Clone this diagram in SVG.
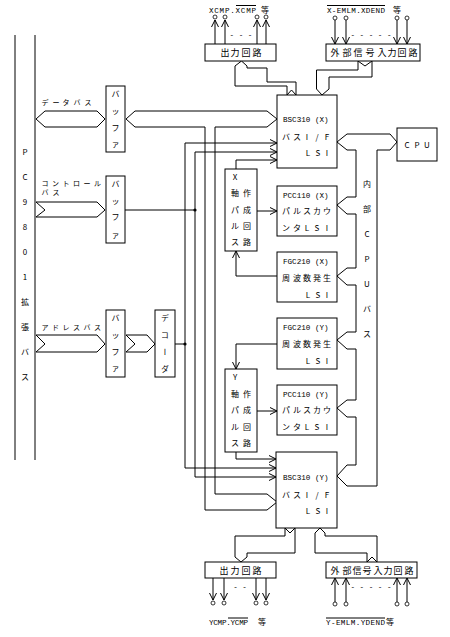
<svg xmlns="http://www.w3.org/2000/svg" width="450" height="637" viewBox="0 0 450 637">
<defs>
<style>
.ln{fill:none;stroke:#000;stroke-width:1}
.bx{fill:#fff;stroke:#000;stroke-width:1}
.m{font-family:"Liberation Mono","DejaVu Sans Mono",monospace;font-size:7.6px;fill:#000}
.j{font-family:"Noto Sans CJK JP","Noto Sans",sans-serif;font-size:8px;fill:#000;text-anchor:middle}
.js{font-family:"Noto Sans CJK JP","Noto Sans",sans-serif;font-size:7px;fill:#000;text-anchor:middle}
.jb{font-family:"Noto Sans CJK JP","Noto Sans",sans-serif;font-size:9px;fill:#000;text-anchor:middle}
.dot{fill:#000}
.term{fill:#fff;stroke:#000;stroke-width:0.8}
</style>
<marker id="ah" viewBox="0 0 7 8" refX="7" refY="4" markerWidth="7" markerHeight="8" markerUnits="userSpaceOnUse" orient="auto"><path d="M0,0.5 L7,4 L0,7.5" fill="none" stroke="#000" stroke-width="1"/></marker>
</defs>
<rect width="450" height="637" fill="#fff"/>

<g id="pc9801-bus">
<line class="ln" x1="15" y1="35" x2="15" y2="460"/>
<line class="ln" x1="35" y1="35" x2="35" y2="460"/>
<text class="j" x="25 25 25 25 25 25 25 25 25 25" y="155 180 205 230 255 280 305 330 355 380">PC9801拡張バス</text>
</g>

<g id="connectors">
<polygon class="ln" points="36,119 45,111 97,111 105,119 97,127 45,127"/>
<polygon class="ln" points="36,202 97,202 105,210 97,217 36,217 45,210"/>
<polygon class="ln" points="36,335 97,335 105,344 97,352 36,352 45,344"/>
<polygon class="ln" points="126,335 147,335 155,344 147,352 126,352 135,344"/>
<path class="ln" d="M126,119 L135,111 L267,111 L277,119 L267,127 L215,127 L215,494 L267,494 L277,502 L267,510 L205,510 L205,127 L135,127 Z"/>
<line class="ln" x1="125" y1="210" x2="195" y2="210"/>
<circle class="dot" cx="195" cy="210" r="1.6"/>
<line class="ln" x1="175" y1="344" x2="185" y2="344"/>
<circle class="dot" cx="185" cy="344" r="1.6"/>
<line class="ln" x1="185" y1="143" x2="185" y2="468"/>
<path class="ln" d="M185,143 L277,143" marker-end="url(#ah)"/>
<path class="ln" d="M185,468 L276,468" marker-end="url(#ah)"/>
<line class="ln" x1="195" y1="152" x2="195" y2="477"/>
<path class="ln" d="M195,152 L277,152" marker-end="url(#ah)"/>
<path class="ln" d="M195,477 L276,477" marker-end="url(#ah)"/>
<path class="ln" d="M236,169 L236,160 L277,160" marker-end="url(#ah)"/>
<path class="ln" d="M236,452 L236,459 L276,459" marker-end="url(#ah)"/>
<path class="ln" d="M257,211 L277,211" marker-end="url(#ah)"/>
<path class="ln" d="M277,276 L236,276 L236,251" marker-end="url(#ah)"/>
<path class="ln" d="M277,344 L236,344 L236,369" marker-end="url(#ah)"/>
<path class="ln" d="M257,411 L277,411" marker-end="url(#ah)"/>
<path class="ln" d="M397,142 L390,134 L347,134 L337,142 L347,150 L356,150 L356,197 L347,197 L337,205 L347,214 L356,214 L356,268 L347,268 L337,276 L347,285 L356,285 L356,332 L347,332 L337,340 L347,349 L356,349 L356,400 L347,400 L337,408 L347,417 L356,417 L356,465 L347,465 L337,476 L347,486 L377,486 L377,150 L390,150 Z"/>
<text class="j" x="367 367 367 367 367 367 367" y="187 212 237 262 287 312 337">内部CPUバス</text>
<path class="ln" d="M241.5,61 L247,66 L247,68 L267,68 L267,82 L296,82 L296,95 L291.5,90 L287,95 L287,86 L235,86 L235,66 Z"/>
<path class="ln" d="M322,95 L316.5,89 L316.5,70 L358,70 L358,61 L365,66 L372,61 L372,77 L329,77 L329,89 Z"/>
<path class="ln" d="M241,562 L235,557 L235,536 L285,536 L285,528 L290,533 L295,528 L295,553 L247,553 L247,557 Z"/>
<path class="ln" d="M320,528 L325,533 L325,536 L377,536 L377,562 L372,557 L367,562 L367,553 L315,553 L315,533 Z"/>
<path class="ln" d="M215,44 L215,20" marker-end="url(#ah)"/>
<path class="ln" d="M225,44 L225,20" marker-end="url(#ah)"/>
<path class="ln" d="M257,44 L257,20" marker-end="url(#ah)"/>
<path class="ln" d="M266,44 L266,20" marker-end="url(#ah)"/>
<circle class="term" cx="215" cy="17" r="2"/>
<circle class="term" cx="225" cy="17" r="2"/>
<circle class="term" cx="257" cy="17" r="2"/>
<circle class="term" cx="266" cy="17" r="2"/>
<path class="ln" d="M335,20 L335,44" marker-end="url(#ah)"/>
<path class="ln" d="M346,20 L346,44" marker-end="url(#ah)"/>
<path class="ln" d="M397,20 L397,44" marker-end="url(#ah)"/>
<path class="ln" d="M407,20 L407,44" marker-end="url(#ah)"/>
<circle class="term" cx="335" cy="18" r="2"/>
<circle class="term" cx="346" cy="18" r="2"/>
<circle class="term" cx="397" cy="18" r="2"/>
<circle class="term" cx="407" cy="18" r="2"/>
<path class="ln" d="M213,578 L213,600" marker-end="url(#ah)"/>
<path class="ln" d="M224,578 L224,600" marker-end="url(#ah)"/>
<path class="ln" d="M256,578 L256,600" marker-end="url(#ah)"/>
<path class="ln" d="M266,578 L266,600" marker-end="url(#ah)"/>
<circle class="term" cx="213" cy="603" r="2"/>
<circle class="term" cx="224" cy="603" r="2"/>
<circle class="term" cx="256" cy="603" r="2"/>
<circle class="term" cx="266" cy="603" r="2"/>
<path class="ln" d="M335,602 L335,578" marker-end="url(#ah)"/>
<path class="ln" d="M346,602 L346,578" marker-end="url(#ah)"/>
<path class="ln" d="M397,602 L397,578" marker-end="url(#ah)"/>
<path class="ln" d="M407,602 L407,578" marker-end="url(#ah)"/>
<circle class="term" cx="335" cy="604" r="2"/>
<circle class="term" cx="346" cy="604" r="2"/>
<circle class="term" cx="397" cy="604" r="2"/>
<circle class="term" cx="407" cy="604" r="2"/>
<text class="m" x="241" y="37" text-anchor="middle" font-size="6">- - -</text>
<text class="m" x="371" y="37" text-anchor="middle" font-size="6">- - - - -</text>
<text class="m" x="240" y="589" text-anchor="middle" font-size="6">- -</text>
<text class="m" x="371" y="589" text-anchor="middle" font-size="6">- - - - -</text>
</g>

<g id="labels">
<text class="js" x="45 56 66 77 88" y="104.5">データバス</text>
<text class="js" x="45 55.5 66 76.5 87 97.5" y="186">コントロール</text>
<text class="js" x="45 56" y="195">バス</text>
<text class="js" x="45 55.5 66 76.5 87 97.5" y="329.5">アドレスバス</text>
<text class="m" x="209" y="13" textLength="47" lengthAdjust="spacing">XCMP.XCMP</text>
<text class="j" x="265" y="13">等</text>
<line class="ln" x1="236" y1="5.5" x2="256" y2="5.5"/>
<text class="m" x="327" y="13" textLength="58" lengthAdjust="spacing">X-EMLM.XDEND</text>
<text class="j" x="397" y="13">等</text>
<line class="ln" x1="327" y1="5.5" x2="385" y2="5.5"/>
<text class="m" x="209" y="625" textLength="39" lengthAdjust="spacing">YCMP.YCMP</text>
<text class="j" x="262" y="625">等</text>
<line class="ln" x1="228" y1="618" x2="248" y2="618"/>
<text class="m" x="326" y="625" textLength="59" lengthAdjust="spacing">Y-EMLM.YDEND</text>
<text class="j" x="390" y="625">等</text>
<line class="ln" x1="326" y1="618" x2="385" y2="618"/>
</g>

<g id="buffer-data">
<rect class="bx" x="106" y="86" width="19" height="66"/>
<text class="j" x="115.5 115.5 115.5 115.5" y="97 114 131 147">バッファ</text>
</g>
<g id="buffer-control">
<rect class="bx" x="106" y="176" width="19" height="67"/>
<text class="j" x="115.5 115.5 115.5 115.5" y="187 204 220 238">バッファ</text>
</g>
<g id="buffer-address">
<rect class="bx" x="106" y="310" width="19" height="67"/>
<text class="j" x="115.5 115.5 115.5 115.5" y="321 338 355 371">バッファ</text>
</g>
<g id="decoder">
<rect class="bx" x="155" y="310" width="20" height="67"/>
<text class="j" style="writing-mode:vertical-rl;text-anchor:start" x="165" y="314" letter-spacing="9">デコーダ</text>
</g>

<g id="bsc310x">
<rect class="bx" x="277" y="95" width="60" height="73"/>
<text class="m" x="283" y="122">BSC310 (X)</text>
<text class="j" x="286 297 307 317 327" y="140">バスI/F</text>
<text class="j" x="308 318 327" y="156">LSI</text>
</g>
<g id="cpu">
<rect class="bx" x="397" y="128" width="40" height="33"/>
<text class="j" x="407 417 427" y="148">CPU</text>
</g>
<g id="pulse-x">
<rect class="bx" x="225" y="169" width="32" height="82"/>
<text class="j" x="235 235 235 235 235 247 247 247 247" y="180 196 213 229 245 196 213 229 245">X軸パルス作成回路</text>
</g>
<g id="pcc110x">
<rect class="bx" x="277" y="186" width="60" height="50"/>
<text class="m" x="283" y="198">PCC110 (X)</text>
<text class="j" x="286 297 307 317 327" y="214">パルスカウ</text>
<text class="j" x="286 297 307 317 327" y="231">ンタLSI</text>
</g>
<g id="fgc210x">
<rect class="bx" x="277" y="252" width="60" height="50"/>
<text class="m" x="283" y="264">FGC210 (X)</text>
<text class="j" x="286 297 307 317 327" y="281">周波数発生</text>
<text class="j" x="308 318 327" y="298">LSI</text>
</g>
<g id="fgc210y">
<rect class="bx" x="277" y="318" width="60" height="51"/>
<text class="m" x="283" y="330">FGC210 (Y)</text>
<text class="j" x="286 297 307 317 327" y="347">周波数発生</text>
<text class="j" x="308 318 327" y="364">LSI</text>
</g>
<g id="pulse-y">
<rect class="bx" x="225" y="369" width="32" height="83"/>
<text class="j" x="235 235 235 235 235 247 247 247 247" y="380 397 413 430 446 397 413 430 446">Y軸パルス作成回路</text>
</g>
<g id="pcc110y">
<rect class="bx" x="277" y="385" width="60" height="50"/>
<text class="m" x="283" y="397">PCC110 (Y)</text>
<text class="j" x="286 297 307 317 327" y="413">パルスカウ</text>
<text class="j" x="286 297 307 317 327" y="430">ンタLSI</text>
</g>
<g id="bsc310y">
<rect class="bx" x="276" y="452" width="61" height="76"/>
<text class="m" x="283" y="480">BSC310 (Y)</text>
<text class="j" x="286 297 307 317 327" y="498">バスI/F</text>
<text class="j" x="308 318 327" y="514">LSI</text>
</g>

<g id="output-x">
<rect class="bx" x="205" y="44" width="71" height="17"/>
<text class="jb" x="225 235 246 257" y="56">出力回路</text>
</g>
<g id="input-x">
<rect class="bx" x="326" y="44" width="94" height="17"/>
<text class="jb" x="335 347 358 370 382 392 402 413" y="56">外部信号入力回路</text>
</g>
<g id="output-y">
<rect class="bx" x="205" y="562" width="71" height="16"/>
<text class="jb" x="224 235 246 257" y="573.5">出力回路</text>
</g>
<g id="input-y">
<rect class="bx" x="326" y="562" width="91" height="16"/>
<text class="jb" x="335 347 357 367 378 388 398 409" y="573.5">外部信号入力回路</text>
</g>
</svg>
